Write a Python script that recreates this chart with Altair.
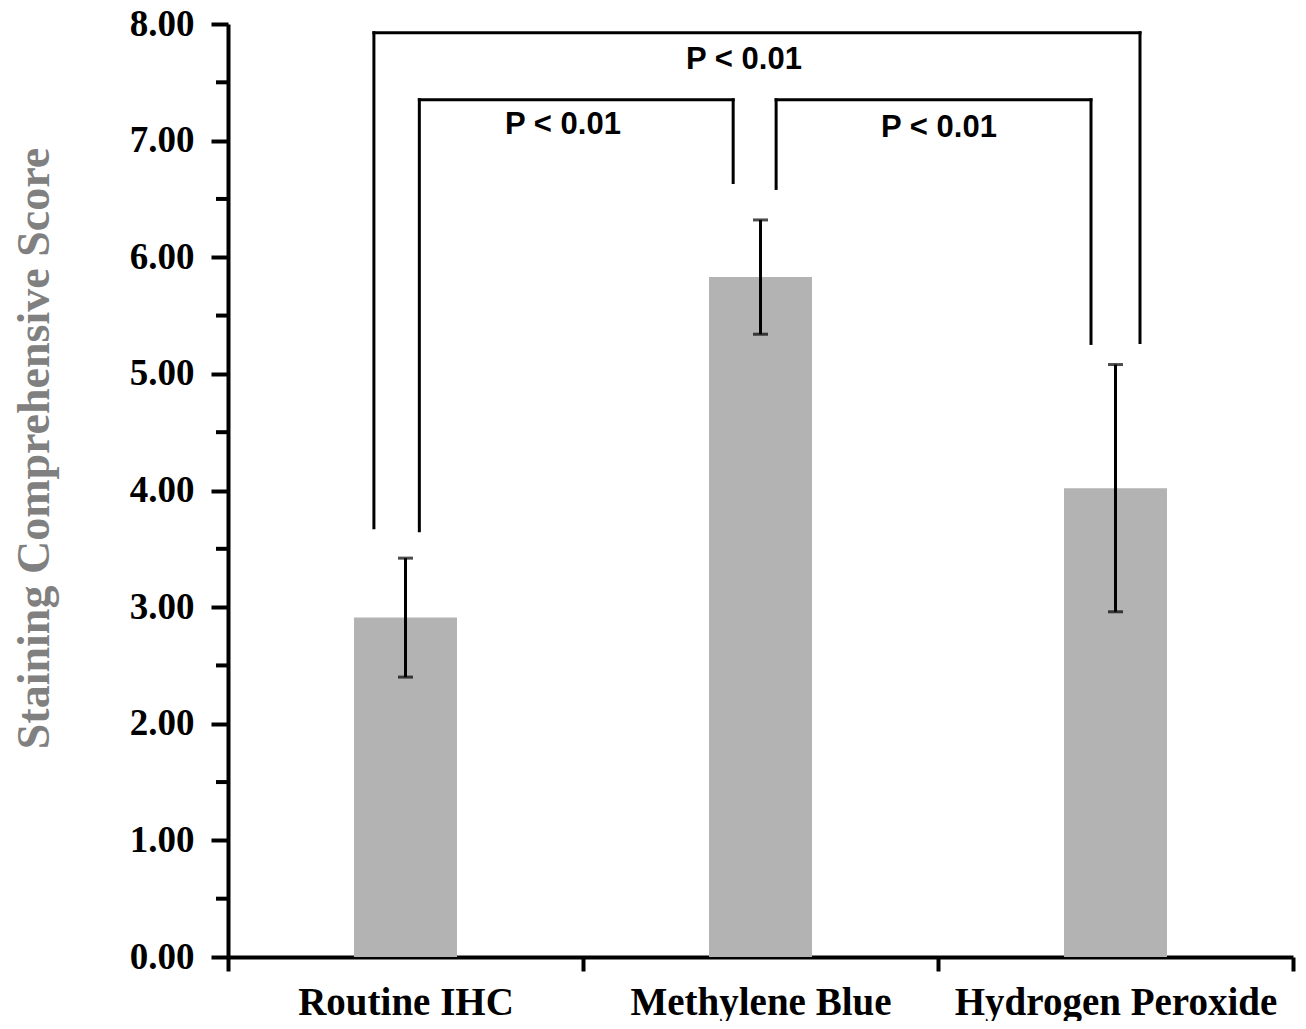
import altair as alt
import pandas as pd

# ---- data ----
categories = ["Routine IHC", "Methylene Blue", "Hydrogen Peroxide"]
means = [2.91, 5.83, 4.02]
err_low = [2.40, 5.34, 2.96]
err_high = [3.42, 6.32, 5.08]

# significance brackets (x in category units: 0..3, category centres at 0.5,1.5,2.5)
bracket_x_left = [0.411, 0.539, 1.544]
bracket_x_right = [2.569, 1.423, 2.431]
bracket_y_top = [7.925, 7.35, 7.35]
bracket_y_left_end = [3.68, 3.654, 6.59]
bracket_y_right_end = [5.269, 6.641, 5.261]
p_labels = ["P < 0.01", "P < 0.01", "P < 0.01"]
p_label_x = [1.4535, 0.9437, 2.0028]
p_label_y = [7.611, 7.053, 7.027]

major_ticks = [0, 1, 2, 3, 4, 5, 6, 7, 8]
minor_ticks = [0.5, 1.5, 2.5, 3.5, 4.5, 5.5, 6.5, 7.5]

df = pd.DataFrame({"cat": categories, "mean": means, "low": err_low, "high": err_high})

seg_rows = []
for xl, xr, yt, yl, yr in zip(bracket_x_left, bracket_x_right, bracket_y_top,
                              bracket_y_left_end, bracket_y_right_end):
    seg_rows.append({"x": xl, "x2": xl, "y": yl, "y2": yt})
    seg_rows.append({"x": xl, "x2": xr, "y": yt, "y2": yt})
    seg_rows.append({"x": xr, "x2": xr, "y": yt, "y2": yr})
seg_df = pd.DataFrame(seg_rows)
txt_df = pd.DataFrame({"label": p_labels, "x": p_label_x, "y": p_label_y})
minor_df = pd.DataFrame({"v": minor_ticks})

band_scale = alt.Scale(domain=categories, paddingInner=0, paddingOuter=0)
y_scale = alt.Scale(domain=[0, 8], nice=False, zero=True)
q_scale = alt.Scale(domain=[0, 3], nice=False, zero=False)

x_axis = alt.Axis(
    title=None, labelAngle=0, tickBand="extent", tickSize=14, tickWidth=4,
    tickColor="black", domainColor="black", domainWidth=4,
    labelFont="Liberation Serif", labelFontSize=39, labelFontWeight="bold",
    labelColor="black", labelPadding=12, labelLimit=600, orient="bottom",
)
y_axis = alt.Axis(
    title="Staining Comprehensive Score",
    values=major_ticks, format=".2f",
    tickSize=17, tickWidth=4, tickColor="black",
    domainColor="black", domainWidth=4,
    labelFont="Liberation Serif", labelFontSize=37, labelFontWeight="bold",
    labelColor="black", labelPadding=17, grid=False,
    titleFont="Liberation Serif", titleFontSize=46, titleFontWeight="bold",
    titleColor="#808080", titleAngle=270, titleX=-180, titleY=424,
    titleAlign="center", titleBaseline="alphabetic", titleLimit=2000,
    orient="left",
)

bars = alt.Chart(df).mark_bar(size=103, color="#b3b3b3").encode(
    x=alt.X("cat:N", sort=categories, scale=band_scale, axis=x_axis),
    y=alt.Y("mean:Q", scale=y_scale, axis=y_axis),
)

err_rule = alt.Chart(df).mark_rule(color="black", strokeWidth=3).encode(
    x=alt.X("cat:N", sort=categories, scale=band_scale, axis=None),
    y=alt.Y("low:Q", axis=None),
    y2="high:Q",
)

caps = alt.Chart(df).transform_fold(["low", "high"], as_=["kind", "val"]).mark_tick(
    color="black", size=15, thickness=3
).encode(
    x=alt.X("cat:N", sort=categories, scale=band_scale, axis=None),
    y=alt.Y("val:Q", axis=None),
)

minor = alt.Chart(minor_df).mark_rule(color="black", strokeWidth=4).encode(
    x=alt.value(-12), x2=alt.value(0),
    y=alt.Y("v:Q", axis=None),
)

brackets = alt.Chart(seg_df).mark_rule(color="black", strokeWidth=3, strokeCap="square").encode(
    x=alt.X("x:Q", scale=q_scale, axis=None),
    x2="x2:Q",
    y=alt.Y("y:Q", axis=None),
    y2="y2:Q",
)

ptext = alt.Chart(txt_df).mark_text(
    font="Liberation Sans", fontSize=31, fontWeight="bold",
    baseline="alphabetic", align="center", color="black",
).encode(
    x=alt.X("x:Q", scale=q_scale, axis=None),
    y=alt.Y("y:Q", axis=None),
    text="label:N",
)

chart = alt.layer(bars, err_rule, caps, minor, brackets, ptext).resolve_scale(
    x="independent", y="shared"
).resolve_axis(
    x="independent", y="independent"
).properties(
    width=1065, height=933,
    autosize=alt.AutoSizeParams(type="none"),
    padding={"left": 220, "top": 16, "right": 5, "bottom": 64},
    background="white",
).configure_view(stroke=None)

chart.save("out.html", embed_options={"renderer": "svg", "actions": False})
